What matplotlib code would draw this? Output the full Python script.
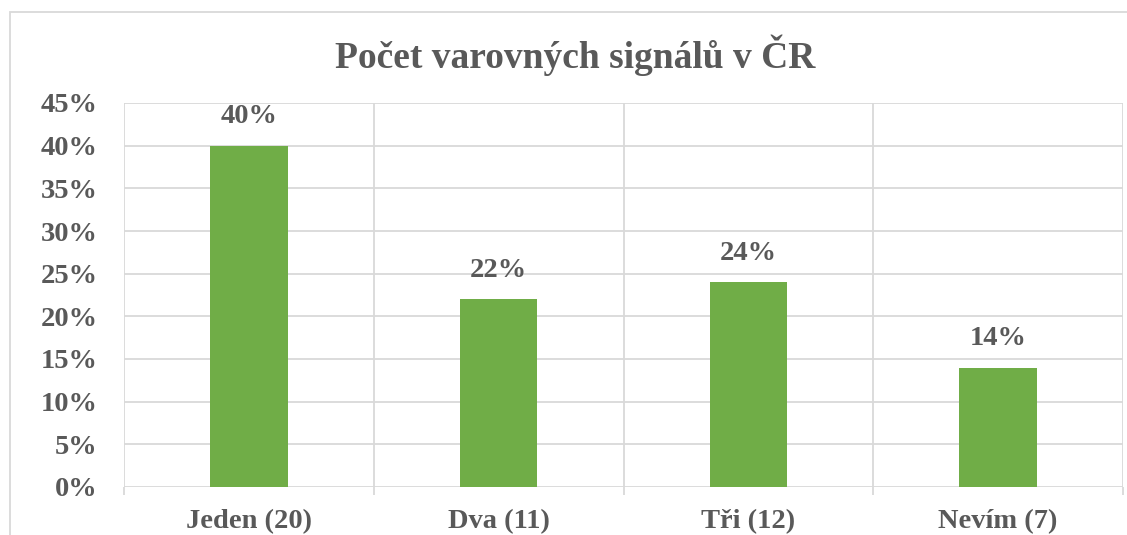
import matplotlib.pyplot as plt
from matplotlib.patches import Rectangle
from matplotlib.ticker import FixedLocator

# data
kategorie = ['Jeden (20)', 'Dva (11)', 'Tři (12)', 'Nevím (7)']
podil = [0.40, 0.22, 0.24, 0.14]
popisky = ['40%', '22%', '24%', '14%']
y_ticks = [0.00, 0.05, 0.10, 0.15, 0.20, 0.25, 0.30, 0.35, 0.40, 0.45]

text_col = '#595959'
grid_col = '#D9D9D9'
bar_col = '#70AD47'

plt.rcParams['font.family'] = ['Liberation Serif', 'DejaVu Serif']
plt.rcParams['font.weight'] = 'bold'

W, H = 1127, 535
fig = plt.figure(figsize=(W / 100, H / 100), dpi=100)
ax = fig.add_axes([124 / W, 1 - 487 / H, (1123 - 124) / W, (487 - 103) / H])

x = range(len(kategorie))
ax.bar(x, podil, width=0.31, color=bar_col, zorder=3)

for xi, v, lab in zip(x, podil, popisky):
    ax.annotate(lab, (xi, v), xytext=(0, 12), textcoords='offset points',
                ha='center', va='bottom', fontsize=20.5, fontweight='bold', color=text_col)

ax.set_xlim(-0.5, 3.5)
ax.set_ylim(0, 0.45)
ax.set_yticks(y_ticks)
ax.set_yticklabels(['%d%%' % round(t * 100) for t in y_ticks])
ax.set_xticks(list(x))
ax.set_xticklabels(kategorie)
ax.xaxis.set_minor_locator(FixedLocator([-0.5, 0.5, 1.5, 2.5, 3.5]))

ax.tick_params(axis='y', length=0, pad=19, labelsize=20.5, labelcolor=text_col)
ax.tick_params(axis='x', which='major', length=0, pad=16, labelsize=20.5, labelcolor=text_col)
ax.tick_params(axis='x', which='minor', length=6, width=1.3, color=grid_col)
for lab in ax.get_xticklabels() + ax.get_yticklabels():
    lab.set_fontweight('bold')

ax.grid(axis='y', color=grid_col, linewidth=1.3, zorder=0)
ax.grid(axis='x', which='minor', color=grid_col, linewidth=1.3, zorder=0)
ax.grid(axis='x', which='major', visible=False)
for s in ax.spines.values():
    s.set_visible(False)

fig.text(575.5 / W, 1 - 68 / H, 'Počet varovných signálů v ČR', ha='center', va='baseline',
         fontsize=27, fontweight='bold', color=text_col)

# chart border (cropped at right and bottom)
fig.patches.append(Rectangle((9.5 / W, -0.1), 1.2, 1.1 - 11.5 / H, transform=fig.transFigure,
                             fill=False, edgecolor=grid_col, linewidth=1.3))

fig.savefig('out.png', dpi=100)
